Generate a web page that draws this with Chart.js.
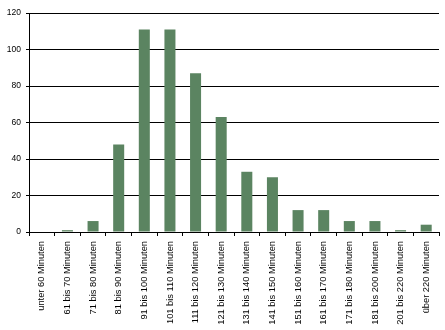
<!DOCTYPE html>
<html>
<head>
<meta charset="utf-8">
<script src="https://cdn.jsdelivr.net/npm/chart.js@4/dist/chart.umd.min.js"></script>
<style>
  html, body { margin: 0; padding: 0; background: #fff; }
  #wrap { width: 445px; height: 330px; }
</style>
</head>
<body>
<div id="wrap"><canvas id="chart" width="445" height="330"></canvas></div>
<script>
const categories = ['unter 60 Minuten', '61 bis 70 Minuten', '71 bis 80 Minuten', '81 bis 90 Minuten',
    '91 bis 100 Minuten', '101 bis 110 Minuten', '111 bis 120 Minuten', '121 bis 130 Minuten',
    '131 bis 140 Minuten', '141 bis 150 Minuten', '151 bis 160 Minuten', '161 bis 170 Minuten',
    '171 bis 180 Minuten', '181 bis 200 Minuten', '201 bis 220 Minuten', 'über 220 Minuten'];
const counts = [0, 1, 6, 48, 111, 111, 87, 63, 33, 30, 12, 12, 6, 6, 1, 4];
const yTicks = [0, 20, 40, 60, 80, 100, 120];

Chart.defaults.font.family = '"Liberation Sans", Arial, sans-serif';
Chart.defaults.font.size = 9.3;
Chart.defaults.color = '#000';

const ctx = document.getElementById('chart').getContext('2d');
const chart = new Chart(ctx, {
    type: 'bar',
    data: {
        labels: categories,
        datasets: [{
            data: counts,
            backgroundColor: '#5b8461',
            borderWidth: 0,
            barPercentage: 0.43,
            categoryPercentage: 1
        }]
    },
    options: {
        responsive: false,
        animation: false,
        layout: { padding: { top: 13, right: 6, left: 0, bottom: 0 } },
        plugins: { legend: { display: false }, tooltip: { enabled: false } },
        scales: {
            x: {
                afterFit: function (s) { s.height = 98; },
                border: { color: '#000', width: 1 },
                grid: { offset: true, drawOnChartArea: false, drawTicks: true, tickLength: 4, color: '#000' },
                ticks: { minRotation: 90, maxRotation: 90, autoSkip: false, padding: 5 }
            },
            y: {
                min: 0,
                max: 120,
                afterFit: function (s) { s.width = 29; },
                afterBuildTicks: function (s) { s.ticks = yTicks.map(v => ({ value: v })); },
                border: { color: '#000', width: 1 },
                grid: { color: '#000', lineWidth: 1, drawTicks: true, tickLength: 3 },
                ticks: { padding: 5, font: { size: 8.5 } }
            }
        }
    }
});
</script>
</body>
</html>
